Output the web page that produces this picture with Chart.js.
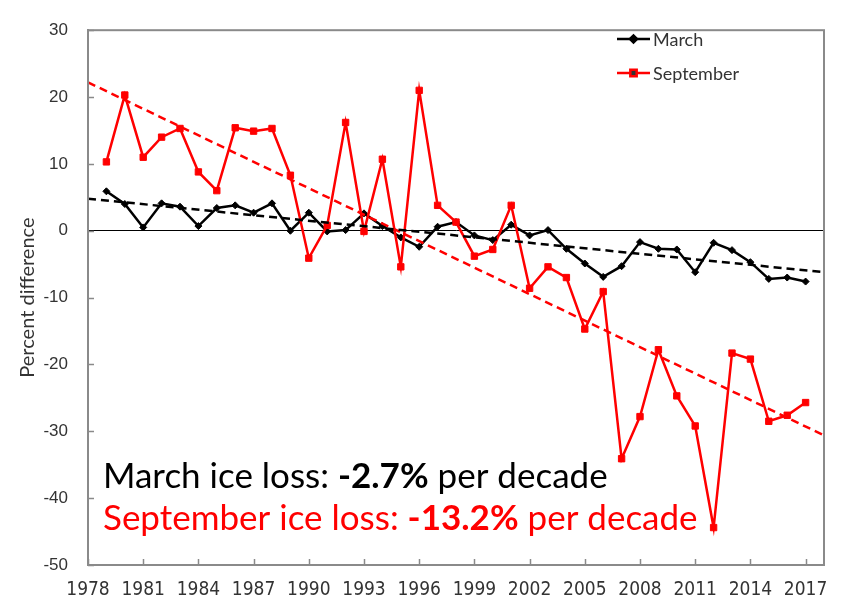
<!DOCTYPE html>
<html>
<head>
<meta charset="utf-8">
<script src="https://cdn.jsdelivr.net/npm/chart.js@4.4.1/dist/chart.umd.min.js"></script>
<style>
  html, body { margin: 0; padding: 0; background: #fff; }
  #wrap { width: 842px; height: 601px; }
</style>
</head>
<body>
<div id="wrap"><canvas id="iceChart" width="842" height="601"></canvas></div>
<script>
const years = [1979, 1980, 1981, 1982, 1983, 1984, 1985, 1986, 1987, 1988,
               1989, 1990, 1991, 1992, 1993, 1994, 1995, 1996, 1997, 1998,
               1999, 2000, 2001, 2002, 2003, 2004, 2005, 2006, 2007, 2008,
               2009, 2010, 2011, 2012, 2013, 2014, 2015, 2016, 2017];
const marchValues = [5.9, 4.0, 0.5, 4.1, 3.6, 0.7, 3.4, 3.8, 2.7, 4.1,
                     0.0, 2.7, -0.1, 0.1, 2.6, 0.7, -1.0, -2.4, 0.6, 1.3,
                     -0.7, -1.4, 0.9, -0.7, 0.1, -2.7, -4.9, -6.9, -5.3, -1.7,
                     -2.7, -2.8, -6.2, -1.8, -2.9, -4.7, -7.2, -7.0, -7.6];
const septemberValues = [10.3, 20.3, 11.0, 14.0, 15.3, 8.8, 6.0, 15.4, 14.9, 15.3,
                         8.3, -4.1, 0.8, 16.2, -0.1, 10.7, -5.4, 21.0, 3.8, 1.3,
                         -3.8, -2.8, 3.8, -8.6, -5.4, -7.0, -14.7, -9.1, -34.1, -27.8,
                         -17.8, -24.7, -29.2, -44.4, -18.3, -19.2, -28.5, -27.6, -25.7];
// trend lines, read at both ends of the axis
const trendYears = [1978, 2018];
const marchTrend = [4.8, -6.2];
const septemberTrend = [22.2, -30.6];

const xTickYears = [1978, 1981, 1984, 1987, 1990, 1993, 1996, 1999, 2002, 2005, 2008, 2011, 2014, 2017];
const yTickValues = [-50, -40, -30, -20, -10, 0, 10, 20, 30];

const seriesNames = ['March', 'September'];
const annotationLines = [
  { color: '#000', parts: [['March ice loss: ', false], ['-2.7%', true], [' per decade', false]] },
  { color: '#ff0000', parts: [['September ice loss: ', false], ['-13.2%', true], [' per decade', false]] }
];

const toPoints = (xs, ys) => xs.map((x, i) => ({ x: x, y: ys[i] }));

// box around plot, inward tick marks, legend and the two text lines
const extrasPlugin = {
  id: 'extras',
  afterDraw(chart) {
    const ctx = chart.ctx;
    const a = chart.chartArea;
    const xs = chart.scales.x, ys = chart.scales.y;
    ctx.save();
    ctx.strokeStyle = '#8a8a8a';
    ctx.lineWidth = 2;
    ctx.strokeRect(a.left, a.top, a.right - a.left, a.bottom - a.top);

    ctx.lineWidth = 1.5;
    ctx.beginPath();
    xTickYears.forEach(v => {
      const px = Math.round(xs.getPixelForValue(v)) + 0.5;
      ctx.moveTo(px, a.bottom); ctx.lineTo(px, a.bottom - 6);
    });
    yTickValues.forEach(v => {
      const py = Math.round(ys.getPixelForValue(v)) + 0.5;
      ctx.moveTo(a.left, py); ctx.lineTo(a.left + 6, py);
    });
    ctx.stroke();

    // legend
    ctx.font = '18px Lato';
    ctx.textBaseline = 'middle';
    seriesNames.forEach((name, i) => {
      const ds = chart.data.datasets[i];
      const ly = 39 + i * 34;
      ctx.strokeStyle = ds.borderColor;
      ctx.lineWidth = 2.5;
      ctx.beginPath(); ctx.moveTo(617, ly); ctx.lineTo(650, ly); ctx.stroke();
      Chart.helpers.drawPoint(ctx, { pointStyle: ds.pointStyle, radius: ds.pointRadius, borderWidth: 1 }, 633.5, ly);
      ctx.fillStyle = '#333';
      ctx.fillText(name, 653, ly + 1);
    });

    // annotation text
    ctx.textBaseline = 'alphabetic';
    annotationLines.forEach((line, i) => {
      let x = 103;
      const y = 488 + i * 42;
      ctx.fillStyle = line.color;
      line.parts.forEach(([t, bold]) => {
        ctx.font = (bold ? 'bold ' : '') + '35px Lato';
        ctx.fillText(t, x, y);
        x += ctx.measureText(t).width;
      });
    });
    ctx.restore();
  }
};

new Chart(document.getElementById('iceChart').getContext('2d'), {
  type: 'line',
  data: {
    datasets: [
      {
        label: 'March',
        data: toPoints(years, marchValues),
        borderColor: '#000',
        backgroundColor: '#000',
        borderWidth: 2.5,
        pointStyle: 'rectRot',
        pointRadius: 3.5,
        pointBorderWidth: 1,
        order: 2
      },
      {
        label: 'September',
        data: toPoints(years, septemberValues),
        borderColor: '#ff0000',
        backgroundColor: '#ff0000',
        borderWidth: 2.5,
        pointStyle: 'rect',
        pointRadius: 4.5,
        pointBorderWidth: 1,
        order: 1
      },
      {
        label: 'March trend',
        data: toPoints(trendYears, marchTrend),
        borderColor: '#000',
        borderWidth: 2.5,
        borderDash: [8, 5],
        pointRadius: 0,
        order: 0
      },
      {
        label: 'September trend',
        data: toPoints(trendYears, septemberTrend),
        borderColor: '#ff0000',
        borderWidth: 2.5,
        borderDash: [8, 5],
        pointRadius: 0,
        order: 0
      }
    ]
  },
  options: {
    responsive: false,
    animation: false,
    layout: { padding: { top: 15, right: 18, left: 0, bottom: 0 } },
    plugins: {
      legend: { display: false },
      tooltip: { enabled: false }
    },
    elements: { line: { tension: 0 } },
    scales: {
      x: {
        type: 'linear',
        min: 1978,
        max: 2018,
        afterBuildTicks: s => { s.ticks = xTickYears.map(v => ({ value: v })); },
        afterFit: s => { s.height = 36; },
        grid: { display: false, drawTicks: false },
        border: { display: true, color: '#8a8a8a', width: 2 },
        ticks: {
          padding: 14,
          maxRotation: 0,
          autoSkip: false,
          color: '#333',
          font: { family: "'Liberation Sans Narrow', 'DejaVu Sans Condensed', sans-serif", size: 19 },
          callback: v => String(v)
        }
      },
      y: {
        min: -50,
        max: 30,
        afterBuildTicks: s => { s.ticks = yTickValues.map(v => ({ value: v })); },
        afterFit: s => { s.width = 88; },
        grid: {
          drawTicks: false,
          color: c => (c.tick && c.tick.value === 0) ? '#000' : 'rgba(0,0,0,0)',
          lineWidth: 1
        },
        border: { display: true, color: '#8a8a8a', width: 2 },
        ticks: {
          padding: 20,
          color: '#333',
          font: { family: "'Liberation Sans', Arial, sans-serif", size: 17 }
        },
        title: {
          display: true,
          text: 'Percent difference',
          color: '#333',
          padding: { top: 16, bottom: 0 },
          font: { family: 'Lato', size: 20 }
        }
      }
    }
  },
  plugins: [extrasPlugin]
});
</script>
</body>
</html>
